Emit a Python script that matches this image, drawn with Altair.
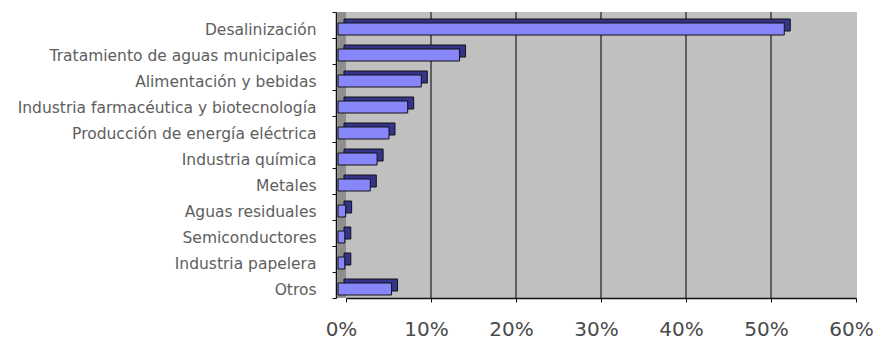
import altair as alt
import pandas as pd

# Sectors and their share of installed desalination/membrane capacity
sectores = [
    "Desalinización",
    "Tratamiento de aguas municipales",
    "Alimentación y bebidas",
    "Industria farmacéutica y biotecnología",
    "Producción de energía eléctrica",
    "Industria química",
    "Metales",
    "Aguas residuales",
    "Semiconductores",
    "Industria papelera",
    "Otros",
]
cuota = [0.525, 0.143, 0.098, 0.082, 0.060, 0.046, 0.038, 0.009, 0.008, 0.008, 0.063]

marcas_x = [0.0, 0.1, 0.2, 0.3, 0.4, 0.5, 0.6]
lineas_guia = [0.1, 0.2, 0.3, 0.4, 0.5]

df = pd.DataFrame({"sector": sectores, "cuota": cuota})
df["base"] = 0.0
guias = pd.DataFrame({"v": lineas_guia})
origen = pd.DataFrame({"z": [0.0]})

W, H = 521, 286
FONT = "DejaVu Sans"

x_scale = alt.Scale(domain=[0, 0.6], range=[10, 520], nice=False, zero=True)
y_scale = alt.Scale(domain=sectores, paddingInner=0, paddingOuter=0)

eje_x = alt.Axis(
    values=marcas_x,
    format=".0%",
    title=None,
    grid=False,
    domainColor="#111111",
    domainWidth=1.5,
    tickColor="#111111",
    tickSize=4,
    labelFont=FONT,
    labelFontSize=20,
    labelColor="#4a4a4a",
    labelPadding=17,
    labelOffset=-5,
    labelFlush=False,
    labelOverlap=False,
)
eje_y = alt.Axis(
    title=None,
    domainColor="#111111",
    domainWidth=1.5,
    tickColor="#111111",
    tickSize=4,
    tickBand="extent",
    labelFont=FONT,
    labelFontSize=15.5,
    labelColor="#5e5e5e",
    labelPadding=16,
    labelOffset=4,
    labelLimit=0,
)

# darker side wall of the 3D box
pared = alt.Chart(origen).mark_rect(
    color="#8f8f8f", xOffset=-8, x2Offset=0
).encode(
    x=alt.X("z:Q", scale=x_scale, axis=eje_x),
    x2="z:Q",
    y=alt.value(0),
    y2=alt.value(H),
)

# vertical gridlines on the back wall
rejilla = alt.Chart(guias).mark_rule(color="#1e1e1e", strokeWidth=1.2).encode(
    x=alt.X("v:Q", scale=x_scale, axis=eje_x)
)

# depth of each bar (top and end faces)
fondo = alt.Chart(df).mark_bar(
    color="#34348a", stroke="#111111", strokeWidth=1, size=12,
    xOffset=-2, x2Offset=-2, yOffset=0,
).encode(
    x=alt.X("cuota:Q", scale=x_scale, axis=eje_x),
    x2="base:Q",
    y=alt.Y("sector:N", scale=y_scale, sort=sectores, axis=eje_y),
)

# front face of each bar
frente = alt.Chart(df).mark_bar(
    color="#8787fb", stroke="#111111", strokeWidth=1, size=12,
    xOffset=-8, x2Offset=-8, yOffset=4,
).encode(
    x=alt.X("cuota:Q", scale=x_scale, axis=eje_x),
    x2="base:Q",
    y=alt.Y("sector:N", scale=y_scale, sort=sectores, axis=eje_y),
)

chart = (
    alt.layer(pared, rejilla, fondo, frente)
    .properties(
        width=W,
        height=H,
        autosize=alt.AutoSizeParams(type="none"),
        padding={"left": 336, "top": 12, "right": 20, "bottom": 43},
        background="white",
    )
    .configure_view(fill="#c0c0c0", stroke=None)
)

chart.save("out.html", embed_options={"renderer": "svg", "actions": False})
